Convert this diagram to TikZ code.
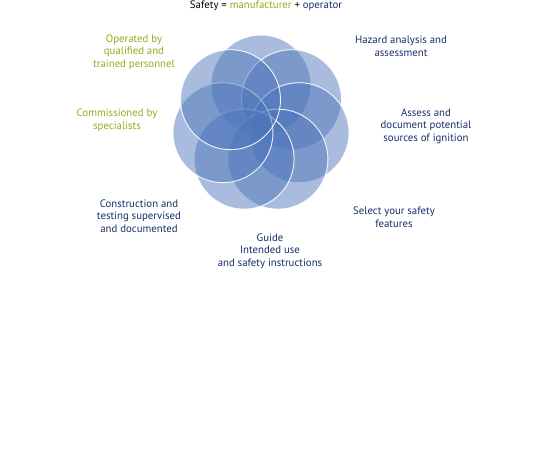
\documentclass[tikz,border=0pt]{standalone}
\usepackage{fontspec}
\setmainfont{PT Sans}
\definecolor{navy}{RGB}{25,45,105}
\definecolor{olive}{RGB}{150,170,25}
\definecolor{petalblue}{RGB}{75,115,185}
\tikzset{
  petal/.style={shape=circle, minimum size=100pt, inner sep=0pt, fill=petalblue, fill opacity=0.48, draw=white, draw opacity=0.9, line width=0.9pt},
  lbl/.style={align=center, text=navy, font=\fontsize{10.8}{12.6}\selectfont, inner sep=0pt},
}
\begin{document}
\begin{tikzpicture}[x=1pt,y=-1pt]
  \useasboundingbox (0,0) rectangle (550,450);

  % rosette
  \foreach \i in {0,...,6}{
    \pgfmathsetmacro{\a}{90-\i*360/7}
    \node[petal] (c\i) at ({261+39*cos(\a)},{124-39*sin(\a)}){};
  }

  % title
  \node[lbl, text=black] (title) at (266,5.5) {Safety = \textcolor{olive}{manufacturer} + \textcolor{navy}{operator}};

  % steps
  \node[lbl] (hazard) at (401,46) {Hazard analysis and\\assessment};
  \node[lbl] (assess) at (426,126) {Assess and\\document potential\\sources of ignition};
  \node[lbl] (select) at (394,217) {Select your safety\\features};
  \node[lbl] (guide) at (270,251) {Guide\\Intended use\\and safety instructions};
  \node[lbl] (construct) at (139,216) {Construction and\\testing supervised\\and documented};
  \node[lbl, text=olive] (commission) at (117,120) {Commissioned by\\specialists};
  \node[lbl, text=olive] (operate) at (134,52) {Operated by\\qualified and\\trained personnel};
\end{tikzpicture}
\end{document}
